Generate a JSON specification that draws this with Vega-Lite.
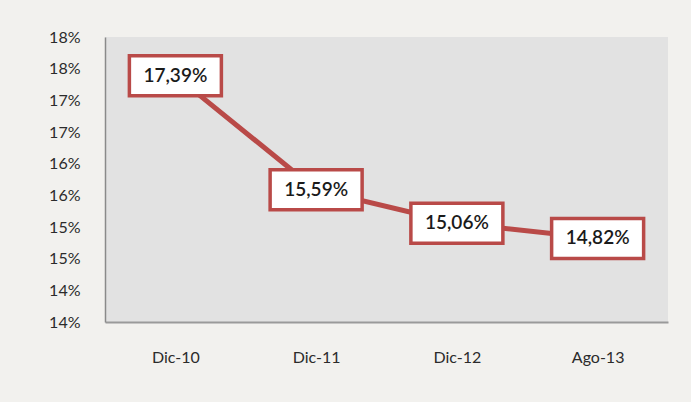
{
  "$schema": "https://vega.github.io/schema/vega-lite/v6.json",
  "width": 563,
  "height": 285,
  "autosize": {"type": "none"},
  "padding": {"left": 105, "top": 37, "right": 23, "bottom": 80},
  "background": "#f2f1ee",
  "view": {"fill": "#e2e2e2", "stroke": null},
  "config": {"font": "Lato"},
  "data": {
    "values": [
      {"periodo": "Dic-10", "tasa": 17.39, "etiqueta": "17,39%"},
      {"periodo": "Dic-11", "tasa": 15.59, "etiqueta": "15,59%"},
      {"periodo": "Dic-12", "tasa": 15.06, "etiqueta": "15,06%"},
      {"periodo": "Ago-13", "tasa": 14.82, "etiqueta": "14,82%"}
    ]
  },
  "encoding": {
    "x": {
      "field": "periodo",
      "type": "ordinal",
      "sort": null,
      "scale": {"type": "point", "padding": 0.5},
      "axis": {
        "title": null,
        "labelAngle": 0,
        "ticks": false,
        "domain": true,
        "domainColor": "#9a9a9a",
        "domainWidth": 2,
        "labelPadding": 27,
        "labelFontSize": 16,
        "labelColor": "#2b2b2b",
        "labelFont": "Lato"
      }
    },
    "y": {
      "field": "tasa",
      "type": "quantitative",
      "scale": {"domain": [13.5, 18], "nice": false, "zero": false},
      "axis": {
        "title": null,
        "values": [13.5, 14, 14.5, 15, 15.5, 16, 16.5, 17, 17.5, 18],
        "labelExpr": "round(datum.value) + '%'",
        "grid": false,
        "ticks": false,
        "domain": true,
        "domainColor": "#8a8a8a",
        "domainWidth": 1.5,
        "labelPadding": 25,
        "labelFontSize": 16,
        "labelColor": "#2b2b2b",
        "labelFont": "Lato"
      }
    }
  },
  "layer": [
    {
      "mark": {"type": "line", "color": "#b94a48", "strokeWidth": 5}
    },
    {
      "mark": {"type": "rect", "width": 92, "height": 40, "fill": "#ffffff", "stroke": "#b94a48", "strokeWidth": 3.5}
    },
    {
      "mark": {"type": "text", "fontSize": 19, "color": "#1a1a1a", "font": "Lato", "fontWeight": 600, "align": "center", "baseline": "middle"},
      "encoding": {"text": {"field": "etiqueta"}}
    }
  ]
}
